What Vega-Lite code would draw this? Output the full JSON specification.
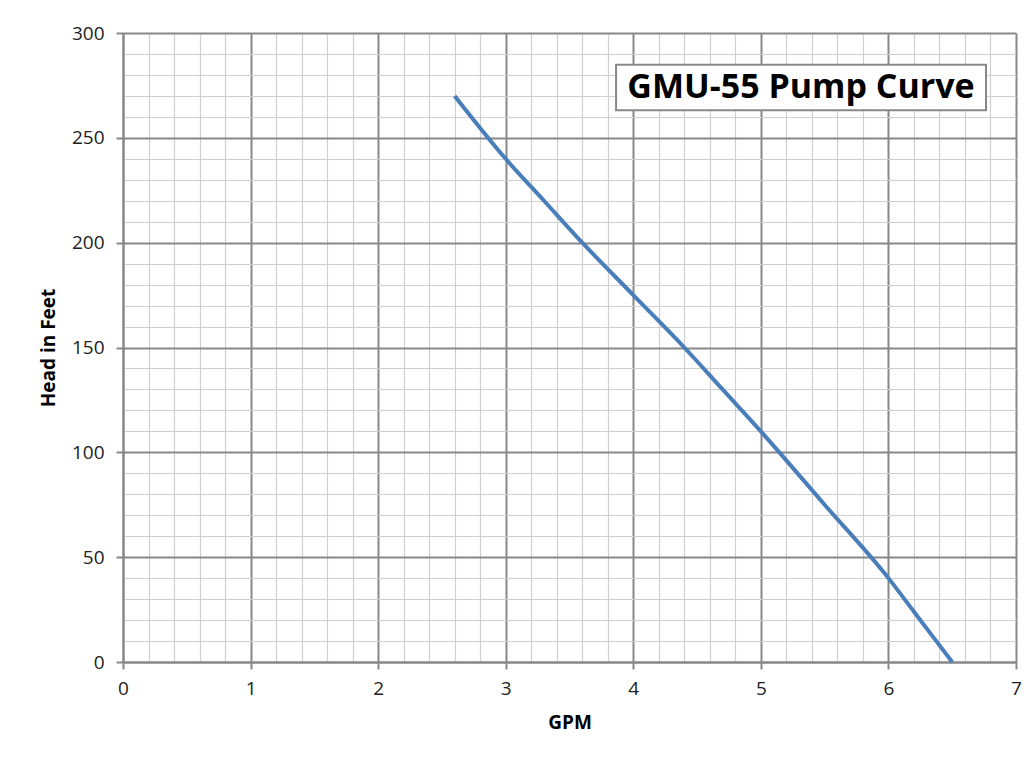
{
  "$schema": "https://vega.github.io/schema/vega-lite/v6.json",
  "width": 893,
  "height": 629,
  "autosize": {"type": "none"},
  "padding": {"left": 123, "top": 33, "right": 19, "bottom": 99},
  "background": "white",
  "config": {"view": {"stroke": null}, "font": "Open Sans"},
  "data": {"values": [
    {"gpm": 2.6, "head": 270},
    {"gpm": 3.0, "head": 240},
    {"gpm": 3.3, "head": 220},
    {"gpm": 3.6, "head": 200},
    {"gpm": 4.0, "head": 175},
    {"gpm": 4.4, "head": 150},
    {"gpm": 4.7, "head": 130},
    {"gpm": 5.0, "head": 110},
    {"gpm": 5.5, "head": 75},
    {"gpm": 6.0, "head": 40},
    {"gpm": 6.2, "head": 24},
    {"gpm": 6.5, "head": 0}
  ]},
  "layer": [
    {
      "mark": {"type": "line", "color": "#4a7ebb", "strokeWidth": 4, "interpolate": "monotone"},
      "encoding": {
        "x": {
          "field": "gpm", "type": "quantitative",
          "scale": {"domain": [0, 7], "nice": false, "zero": false},
          "axis": {
            "title": "GPM",
            "tickCount": 200,
            "values": [0,0.2,0.4,0.6,0.8,1,1.2,1.4,1.6,1.8,2,2.2,2.4,2.6,2.8,3,3.2,3.4,3.6,3.8,4,4.2,4.4,4.6,4.8,5,5.2,5.4,5.6,5.8,6,6.2,6.4,6.6,6.8,7],
            "labelExpr": "abs(datum.value - round(datum.value)) < 0.001 ? format(datum.value, 'd') : ''",
            "grid": true,
            "gridColor": {"condition": {"test": "abs(datum.value - round(datum.value)) < 0.001", "value": "#888888"}, "value": "#cfcfcf"},
            "gridWidth": {"condition": {"test": "abs(datum.value - round(datum.value)) < 0.001", "value": 2}, "value": 1.2},
            "gridOpacity": 1,
            "tickSize": {"condition": {"test": "abs(datum.value - round(datum.value)) < 0.001", "value": 7}, "value": 0},
            "tickColor": "#888888",
            "tickWidth": 2,
            "domainColor": "#888888",
            "domainWidth": 2,
            "labelFont": "Open Sans",
            "labelFontSize": 19,
            "labelColor": "#222",
            "labelPadding": 10,
            "labelFlush": false,
            "labelOverlap": false,
            "titleFont": "Open Sans",
            "titleFontSize": 19,
            "titleFontWeight": "bold",
            "titleColor": "#000",
            "titlePadding": 15
          }
        },
        "y": {
          "field": "head", "type": "quantitative",
          "scale": {"domain": [0, 300], "nice": false},
          "axis": {
            "title": "Head in Feet",
            "tickCount": 200,
            "values": [0,10,20,30,40,50,60,70,80,90,100,110,120,130,140,150,160,170,180,190,200,210,220,230,240,250,260,270,280,290,300],
            "labelExpr": "datum.value % 50 === 0 ? format(datum.value, 'd') : ''",
            "grid": true,
            "gridColor": {"condition": {"test": "datum.value % 50 === 0", "value": "#888888"}, "value": "#cfcfcf"},
            "gridWidth": {"condition": {"test": "datum.value % 50 === 0", "value": 2}, "value": 1.2},
            "gridOpacity": 1,
            "tickSize": {"condition": {"test": "datum.value % 50 === 0", "value": 7}, "value": 0},
            "tickColor": "#888888",
            "tickWidth": 2,
            "domainColor": "#888888",
            "domainWidth": 2,
            "labelFont": "Open Sans",
            "labelFontSize": 19,
            "labelColor": "#222",
            "labelPadding": 12,
            "labelFlush": false,
            "labelOverlap": false,
            "titleFont": "Open Sans",
            "titleFontSize": 19,
            "titleFontWeight": "bold",
            "titleColor": "#000",
            "titlePadding": 13
          }
        }
      }
    },
    {
      "data": {"values": [{"label": "GMU-55 Pump Curve"}]},
      "mark": {"type": "rect", "fill": "white", "stroke": "#888888", "strokeWidth": 2},
      "encoding": {
        "x": {"datum": 3.865, "type": "quantitative"},
        "x2": {"datum": 6.765},
        "y": {"datum": 284.8, "type": "quantitative"},
        "y2": {"datum": 263.2}
      }
    },
    {
      "data": {"values": [{"label": "GMU-55 Pump Curve"}]},
      "mark": {"type": "text", "font": "Open Sans", "fontWeight": "bold", "fontSize": 34, "color": "#000", "baseline": "middle", "align": "center"},
      "encoding": {
        "text": {"field": "label"},
        "x": {"datum": 5.315, "type": "quantitative"},
        "y": {"datum": 274, "type": "quantitative"}
      }
    }
  ]
}
